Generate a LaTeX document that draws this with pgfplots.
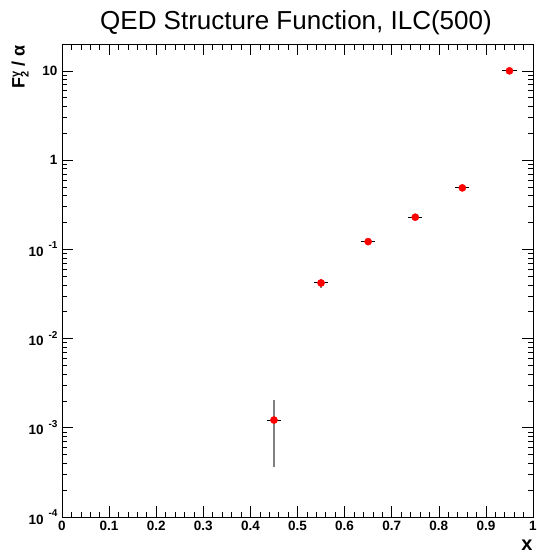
\documentclass[border=0pt]{standalone}
\usepackage{fontspec}
\setmainfont{Liberation Sans}
\usepackage{pgfplots}
\usepackage{pgfplotstable}
\pgfplotsset{compat=1.18}
\pgfplotstableread{
x y ex eyp eym
0.45 1.22e-3 0.015 0.83e-3 0.86e-3
0.55 0.0420 0.015 0.0050 0.0050
0.65 0.122 0.015 0.006 0.006
0.75 0.229 0.015 0.008 0.008
0.85 0.488 0.015 0.015 0.015
0.95 10 0.015 0.2 0.2
}\qed
\newcommand{\tl}[1]{\fontsize{13.5}{13.5}\selectfont\bfseries #1}
\newcommand{\te}[1]{\fontsize{13.5}{13.5}\selectfont\bfseries 10\hspace{5pt}\raisebox{7.5pt}{\fontsize{10}{10}\selectfont\bfseries #1}\hspace{2pt}}
\begin{document}
\begin{tikzpicture}
\path[use as bounding box] (0pt,0pt) rectangle (537pt,555pt);
\begin{axis}[
  at={(62pt,38pt)}, anchor=south west, scale only axis,
  width=471pt, height=473pt,
  xmin=0, xmax=1, ymode=log, ymin=1e-4, ymax=20,
  axis line style={line width=0.8pt},
  tick style={black, line width=0.6pt},
  tick align=inside, major tick length=11pt, minor tick length=5.5pt,
  xtick={0,0.1,0.2,0.3,0.4,0.5,0.6,0.7,0.8,0.9,1},
  xticklabels={\tl{0},\tl{0.1},\tl{0.2},\tl{0.3},\tl{0.4},\tl{0.5},\tl{0.6},\tl{0.7},\tl{0.8},\tl{0.9},\tl{1}},
  minor x tick num=4,
  ytick={1e-4,1e-3,1e-2,1e-1,1,10},
  yticklabels={\te{-4},\te{-3},\te{-2},\te{-1},\tl{1},\tl{10}},
  xticklabel style={yshift=-1pt},
  yticklabel style={xshift=-1pt},
]
\addplot[only marks, mark=none, error bars/.cd, y dir=both, y explicit, error mark=none,
  error bar style={draw=black!50, line width=1.4pt}]
  table[x=x, y=y, y error plus=eyp, y error minus=eym] {\qed};
\addplot[only marks, mark=none, error bars/.cd, x dir=both, x explicit, error mark=none,
  error bar style={draw=black, line width=1pt}]
  table[x=x, y=y, x error=ex] {\qed};
\addplot[only marks, mark=*, mark size=3.6pt, mark options={draw=red, fill=red}]
  table[x=x, y=y] {\qed};
\end{axis}
\node at (296pt,532pt) {\fontsize{26}{26}\selectfont QED Structure Function, ILC(500)};
\node[anchor=south, inner sep=1pt] at (527pt,3pt) {\fontsize{20}{20}\selectfont\bfseries x};
\node[rotate=90, anchor=east] at (20pt,513pt) {\fontsize{18}{18}\selectfont\bfseries F\rlap{\raisebox{-4pt}{\fontsize{11}{11}\selectfont 2}}\raisebox{6pt}{\fontsize{11}{11}\selectfont γ} / α};
\end{tikzpicture}
\end{document}
